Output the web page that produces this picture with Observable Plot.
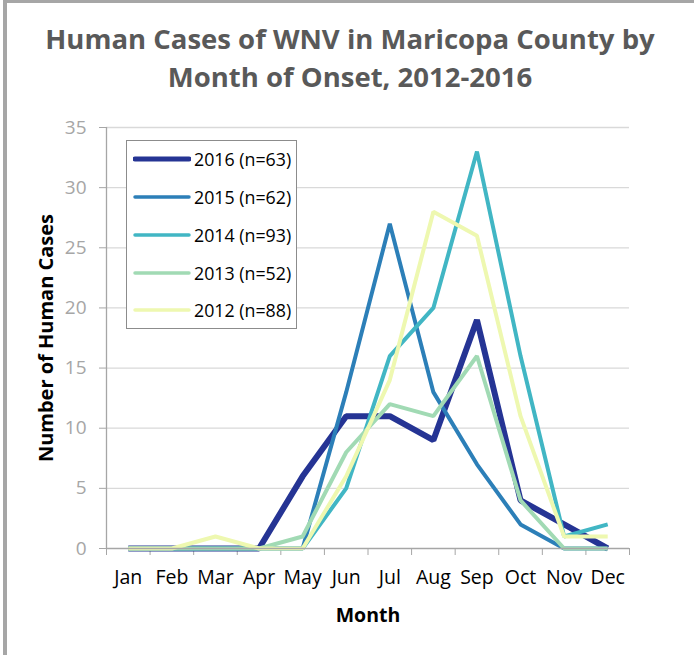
<!DOCTYPE html>
<html>
<head>
<meta charset="utf-8">
<script src="https://cdn.jsdelivr.net/npm/d3@7"></script>
<script src="https://cdn.jsdelivr.net/npm/@observablehq/plot@0.6"></script>
<style>
  html, body { margin: 0; padding: 0; background: #fff; }
  body { width: 694px; height: 655px; position: relative; overflow: hidden; font-family: "Open Sans", sans-serif; }
  #frame { position: absolute; left: 3px; top: 0; width: 700px; height: 700px; border-left: 4px solid #a6a6a6; border-top: 3px solid #a6a6a6; box-sizing: border-box; }
  .title { position: absolute; left: 0; width: 700px; text-align: center; font-weight: 700; font-size: 27.5px; line-height: 37.5px; height: 37.5px; color: #595959; white-space: nowrap; }
  #chart { position: absolute; left: 0; top: 110px; }
  #legend { position: absolute; left: 126px; top: 140px; width: 171px; height: 189px; border: 1.5px solid #8c8c8c; background: #fff; box-sizing: border-box; }
  .row { position: absolute; left: 6px; height: 24px; display: flex; align-items: center; font-size: 17.8px; color: #000; white-space: nowrap; }
  .row svg { margin-right: 3px; }
</style>
</head>
<body>
<div id="frame"></div>
<div class="title" style="top:20px">Human Cases of WNV in Maricopa County by</div>
<div class="title" style="top:57.5px">Month of Onset, 2012-2016</div>
<div id="chart"></div>
<div id="legend"></div>
<script>
const months = ["Jan","Feb","Mar","Apr","May","Jun","Jul","Aug","Sep","Oct","Nov","Dec"];
const years = ["2016","2015","2014","2013","2012"];
const counts = [63, 62, 93, 52, 88];
const cases2016 = [0,0,0,0,6,11,11,9,19,4,2,0];
const cases2015 = [0,0,0,0,0,13,27,13,7,2,0,0];
const cases2014 = [0,0,0,0,0,5,16,20,33,16,1,2];
const cases2013 = [0,0,0,0,1,8,12,11,16,4,0,0];
const cases2012 = [0,0,1,0,0,6,14,28,26,11,1,1];
const yTicks = [0,5,10,15,20,25,30,35];

const seriesValues = [cases2016, cases2015, cases2014, cases2013, cases2012];
const colors = ["#253494","#2c7fb8","#41b6c4","#a1dab4","#eef8b0"];
const widths = [6, 4, 4, 4, 4];

const data = [];
years.forEach((yr, k) => seriesValues[k].forEach((v, i) => data.push({year: yr, m: i + 1, month: months[i], v})));

const boundaries = d3.range(0, 13).map(i => i + 0.5);

const lineMarks = years.map((yr, k) =>
  Plot.line(data.filter(d => d.year === yr), {
    x: "m", y: "v", stroke: colors[k], strokeWidth: widths[k],
    strokeLinejoin: "miter", strokeLinecap: "butt"
  })
);

const chart = Plot.plot({
  width: 694,
  height: 545,
  marginLeft: 106,
  marginRight: 65,
  marginTop: 17,
  marginBottom: 107,
  style: { fontFamily: "Open Sans, sans-serif", fontSize: "17px", background: "transparent", overflow: "visible" },
  x: { type: "linear", domain: [0.5, 12.5] },
  y: { domain: [0, 35] },
  marks: [
    Plot.gridY(yTicks.filter(t => t > 0), { stroke: "#d9d9d9", strokeOpacity: 1, strokeWidth: 1.3 }),
    Plot.ruleX([0.5], { stroke: "#a6a6a6", strokeWidth: 1.3 }),
    Plot.axisY({ ticks: yTicks, tickSize: 7, tickPadding: 13, stroke: "#a6a6a6", fill: "#a6a6a6", label: null, fontSize: 19 }),
    Plot.axisX({ ticks: boundaries, tickSize: 7, tickFormat: () => "", stroke: "#a6a6a6", label: null }),
    Plot.axisX({ ticks: d3.range(1, 13), tickSize: 0, tickPadding: 22, tickFormat: i => months[i - 1], fill: "#000", label: null, fontSize: 19.5 }),
    ...lineMarks,
    Plot.ruleY([0], { stroke: "#a6a6a6", strokeWidth: 1.3 }),
    Plot.text(["Month"], { frameAnchor: "bottom", dy: 73, text: d => d, fontWeight: "bold", fontSize: 19.5, fill: "#000" }),
    Plot.text(["Number of Human Cases"], { frameAnchor: "left", dx: -60, rotate: -90, textAnchor: "middle", text: d => d, fontWeight: "bold", fontSize: 20, fill: "#000" })
  ]
});
document.getElementById("chart").appendChild(chart);

// legend
const legend = document.getElementById("legend");
const rowTops = [6, 44, 82, 120, 157];
years.forEach((yr, k) => {
  const row = document.createElement("div");
  row.className = "row";
  row.style.top = rowTops[k] + "px";
  const sw = d3.create("svg").attr("width", 58).attr("height", 10);
  sw.append("line").attr("x1", 2).attr("x2", 56).attr("y1", 5).attr("y2", 5)
    .attr("stroke", colors[k]).attr("stroke-width", k === 0 ? 5 : 3.5).attr("stroke-linecap", "round");
  row.appendChild(sw.node());
  const t = document.createElement("span");
  t.textContent = `${yr} (n=${counts[k]})`;
  row.appendChild(t);
  legend.appendChild(row);
});
</script>
</body>
</html>
